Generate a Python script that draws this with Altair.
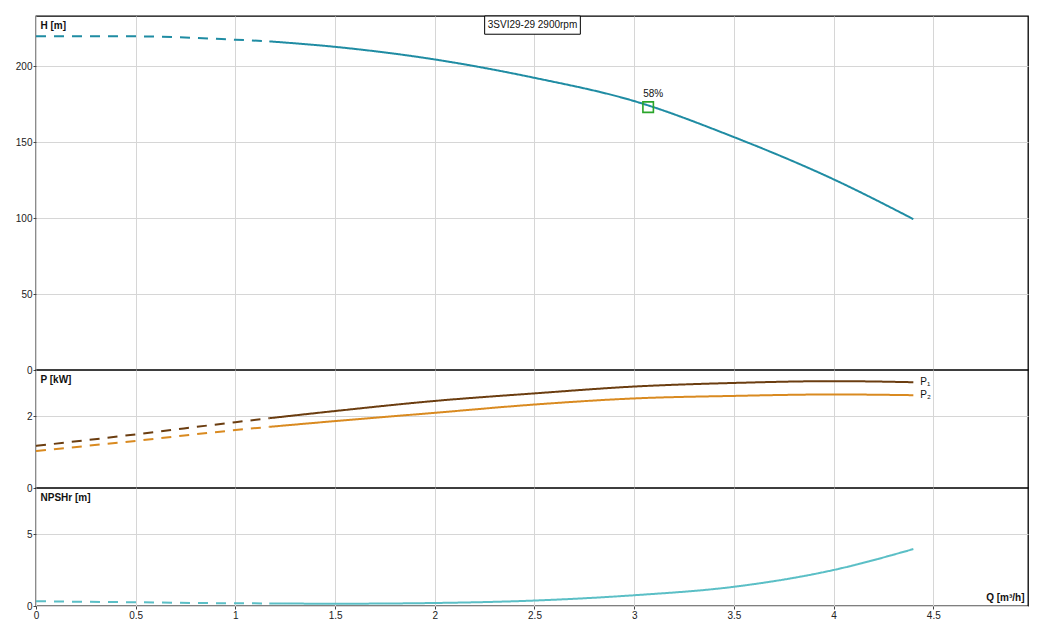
import altair as alt
import pandas as pd

# ---------------- data ----------------
Q = [0.0, 0.5, 1.0, 1.17, 1.5, 2.0, 2.5, 3.0, 3.5, 4.0, 4.4]
H = [219.7, 219.6, 217.4, 216.3, 212.7, 204.4, 192.3, 177.0, 153.3, 125.5, 99.3]
P1 = [1.17, 1.49, 1.83, 1.94, 2.14, 2.42, 2.63, 2.82, 2.92, 2.97, 2.94]
P2 = [1.03, 1.31, 1.61, 1.70, 1.86, 2.09, 2.32, 2.49, 2.56, 2.60, 2.58]
NPSH = [0.33, 0.26, 0.19, 0.18, 0.16, 0.21, 0.38, 0.75, 1.34, 2.51, 3.97]
Q_SPLIT = 1.17  # dashed below this flow, solid above

BEP_Q = [3.07]
BEP_H = [173.0]
BEP_LABEL = ["58%"]

P_LABELS = ["P\u2081", "P\u2082"]
P_LABEL_Q = [4.4, 4.4]
P_LABEL_V = [2.94, 2.58]

TITLE_TEXT = "3SVI29-29 2900rpm"

X_TICKS = [0, 0.5, 1, 1.5, 2, 2.5, 3, 3.5, 4, 4.5]
X_DOMAIN = [0, 4.975]
H_DOMAIN = [0, 233]
P_DOMAIN = [0, 3.28]
N_DOMAIN = [0, 8.23]

W = 992
FONT = "Liberation Sans"
VIEW = alt.ViewBackground(stroke="black", strokeWidth=1.3, fill="white")


def segs(qs, vs, name):
    rows = []
    for q, v in zip(qs, vs):
        if q <= Q_SPLIT:
            rows.append({"Q": q, "v": v, "seg": "dashed", "series": name})
        if q >= Q_SPLIT:
            rows.append({"Q": q, "v": v, "seg": "solid", "series": name})
    return rows


dfH = pd.DataFrame(segs(Q, H, "H"))
dfP = pd.DataFrame(segs(Q, P1, "P1") + segs(Q, P2, "P2"))
dfN = pd.DataFrame(segs(Q, NPSH, "NPSH"))

dash = alt.StrokeDash("seg:N", scale=alt.Scale(domain=["dashed", "solid"], range=[[10, 8], [1, 0]]), legend=None)

x_hidden = alt.X("Q:Q", scale=alt.Scale(domain=X_DOMAIN, nice=False, zero=False),
                 axis=alt.Axis(values=X_TICKS, labels=False, ticks=False, domain=False, title=None, grid=True))


def yaxis(title, values):
    return alt.Axis(values=values, title=title, titleAngle=0, titleX=4, titleY=4,
                    titleAlign="left", titleBaseline="top", titleFontWeight="bold",
                    titleFontSize=10, titleFont=FONT, titleColor="#111",
                    grid=True, domain=False, labelFlush=False)


# ---------------- top panel: H ----------------
h_line = alt.Chart(dfH).mark_line(strokeWidth=2, interpolate="monotone", color="#1f8ca3").encode(
    x=x_hidden,
    y=alt.Y("v:Q", scale=alt.Scale(domain=H_DOMAIN, nice=False), axis=yaxis("H [m]", [0, 50, 100, 150, 200])),
    strokeDash=dash,
    detail="series:N",
)

bep_df = pd.DataFrame({"Q": BEP_Q, "v": BEP_H, "label": BEP_LABEL})
bep_pt = alt.Chart(bep_df).mark_point(shape="square", filled=False, size=110, strokeWidth=1.6,
                                      color="#2aa52a", opacity=1).encode(x="Q:Q", y="v:Q")
bep_tx = alt.Chart(bep_df).mark_text(fontSize=10, font=FONT, color="#111", dx=5, dy=-8,
                                     baseline="bottom", align="center").encode(x="Q:Q", y="v:Q", text="label:N")

box_df = pd.DataFrame({"x1": [2.25], "x2": [2.73], "y1": [221.0], "y2": [233.0],
                       "xm": [2.49], "ym": [227.0], "t": [TITLE_TEXT]})
box = alt.Chart(box_df).mark_rect(fill="white", stroke="black", strokeWidth=1).encode(
    x="x1:Q", x2="x2:Q", y="y1:Q", y2="y2:Q")
box_tx = alt.Chart(box_df).mark_text(fontSize=10, font=FONT, color="#111").encode(
    x="xm:Q", y="ym:Q", text="t:N")

top = alt.layer(h_line, box, box_tx, bep_pt, bep_tx).properties(width=W, height=354, view=VIEW)

# ---------------- middle panel: P ----------------
p_line = alt.Chart(dfP).mark_line(strokeWidth=2, interpolate="monotone").encode(
    x=x_hidden,
    y=alt.Y("v:Q", scale=alt.Scale(domain=P_DOMAIN, nice=False), axis=yaxis("P [kW]", [0, 2])),
    color=alt.Color("series:N", scale=alt.Scale(domain=["P1", "P2"], range=["#6b3d10", "#d98a20"]), legend=None),
    strokeDash=dash,
)
plab_df = pd.DataFrame({"Q": P_LABEL_Q, "v": P_LABEL_V, "t": P_LABELS})
p_lab = alt.Chart(plab_df).mark_text(fontSize=10, font=FONT, color="#111", align="left", dx=7).encode(
    x="Q:Q", y="v:Q", text="t:N")
mid = alt.layer(p_line, p_lab).properties(width=W, height=118, view=VIEW)

# ---------------- bottom panel: NPSH ----------------
x_full = alt.X("Q:Q", scale=alt.Scale(domain=X_DOMAIN, nice=False, zero=False),
               axis=alt.Axis(values=X_TICKS, format="~g", title="Q [m\u00b3/h]", titleX=W - 4, titleY=-4,
                             titleAlign="right", titleBaseline="bottom", titleFontWeight="bold",
                             titleFontSize=10, titleFont=FONT, titleColor="#111",
                             grid=True, domain=False, labelFlush=False))
n_line = alt.Chart(dfN).mark_line(strokeWidth=2, interpolate="monotone", color="#5bbfc6").encode(
    x=x_full,
    y=alt.Y("v:Q", scale=alt.Scale(domain=N_DOMAIN, nice=False), axis=yaxis("NPSHr [m]", [0, 5])),
    strokeDash=dash,
    detail="series:N",
)
bot = n_line.properties(width=W, height=118, view=VIEW)

chart = alt.vconcat(top, mid, bot, spacing=0, bounds="flush").resolve_scale(
    color="independent", strokeDash="independent"
).properties(
    padding={"left": 6, "top": 6, "right": 5, "bottom": 2},
    background="white",
).configure_view(
    stroke="black", strokeWidth=1.3
).configure_axis(
    gridColor="#d6d6d6", gridWidth=1, labelFont=FONT, labelFontSize=10, labelColor="#222",
    tickColor="#444", tickSize=3, labelPadding=1
)

chart.save("out.html", embed_options={"renderer": "svg", "actions": False})
